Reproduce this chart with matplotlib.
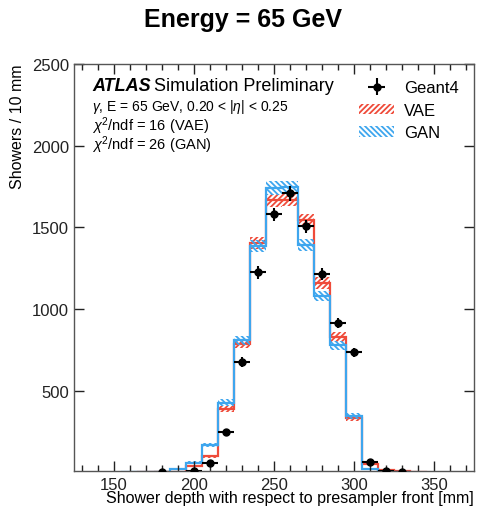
import numpy as np
import matplotlib
matplotlib.use("Agg")
import matplotlib.pyplot as plt
import matplotlib.patches as mpatches

plt.rcParams['font.family'] = ['Liberation Sans', 'DejaVu Sans']
plt.rcParams['mathtext.fontset'] = 'custom'
plt.rcParams['mathtext.rm'] = 'Liberation Sans'
plt.rcParams['mathtext.it'] = 'Liberation Sans:italic'
plt.rcParams['hatch.linewidth'] = 1.3

# bin centres (mm), 10 mm bins
centers = [160, 170, 180, 190, 200, 210, 220, 230, 240, 250, 260, 270, 280, 290, 300, 310, 320, 330, 340]

geant4 = [0, 0, 5, 0, 10, 62, 251, 677, 1225, 1580, 1708, 1506, 1214, 914, 735, 68, 10, 5, 0]
geant4_err = [0, 0, 3, 0, 4, 9, 18, 30, 38, 42, 44, 40, 36, 32, 28, 9, 4, 3, 0]

vae = [0, 1, 3, 6, 40, 100, 388, 788, 1405, 1665, 1670, 1545, 1160, 830, 333, 55, 18, 8, 3]
vae_err = [0, 1, 2, 3, 7, 10, 20, 28, 37, 41, 41, 39, 34, 29, 18, 7, 4, 3, 2]

gan = [2, 3, 5, 20, 62, 170, 428, 810, 1385, 1740, 1745, 1390, 1080, 780, 347, 20, 5, 2, 0]
gan_err = [1, 2, 2, 5, 8, 13, 21, 28, 37, 42, 42, 37, 33, 28, 19, 5, 2, 1, 0]

red = '#ef4b3a'
blue = '#3ea6ee'

centers = np.array(centers)
edges = np.append(centers - 5, centers[-1] + 5)

fig = plt.figure(figsize=(4.86, 5.10), dpi=100)
ax = fig.add_axes([74 / 486, 1 - 472 / 510, 400 / 486, 407 / 510])

for vals, errs, col, hatch in [(vae, vae_err, red, '//////'), (gan, gan_err, blue, '\\\\\\\\\\\\')]:
    vals = np.array(vals, dtype=float)
    errs = np.array(errs, dtype=float)
    ax.bar(centers, 2 * errs, bottom=vals - errs, width=10, fill=False,
           hatch=hatch, edgecolor=col, linewidth=0)
    ax.stairs(vals, edges, color=col, linewidth=1.6)

mask = np.array(geant4) > 0
ax.errorbar(centers[mask], np.array(geant4)[mask], xerr=5, yerr=np.array(geant4_err)[mask],
            fmt='o', color='black', markersize=5, elinewidth=1.5, capsize=0, zorder=5)

ax.set_xlim(125, 375)
ax.set_ylim(10, 2500)
ax.set_xticks([150, 200, 250, 300, 350])
ax.set_xticks(np.arange(130, 375, 10), minor=True)
ax.set_yticks([500, 1000, 1500, 2000, 2500])
ax.tick_params(which='both', direction='in', top=True, right=True, labelsize=12, colors='#222222')
ax.tick_params(which='major', length=7, width=1)
ax.tick_params(which='minor', length=4, width=1)
ax.tick_params(axis='x', pad=4)
for s in ax.spines.values():
    s.set_color('#555555')
    s.set_linewidth(1.0)

ax.set_xlabel('Shower depth with respect to presampler front [mm]', fontsize=11.5, loc='right', labelpad=-1)
ax.set_ylabel('Showers / 10 mm', fontsize=11.5, loc='top', labelpad=5)

fig.suptitle('Energy = 65 GeV', fontsize=18, fontweight='bold', x=0.5, y=0.985)

ax.text(0.045, 0.937, 'ATLAS', transform=ax.transAxes, fontsize=13, fontweight='bold',
        fontstyle='italic', va='baseline')
ax.text(0.2, 0.937, 'Simulation Preliminary', transform=ax.transAxes, fontsize=13, va='baseline')
ax.text(0.045, 0.888, r'$\gamma$, E = 65 GeV, 0.20 < |$\eta$| < 0.25', transform=ax.transAxes,
        fontsize=10, va='baseline')
ax.text(0.045, 0.839, r'$\chi^2$/ndf = 16 (VAE)', transform=ax.transAxes, fontsize=10.5, va='baseline')
ax.text(0.045, 0.790, r'$\chi^2$/ndf = 26 (GAN)', transform=ax.transAxes, fontsize=10.5, va='baseline')

h_g4 = ax.errorbar([], [], xerr=1, yerr=1, fmt='o', color='black', markersize=5, elinewidth=1.5)
h_vae = mpatches.Patch(facecolor='none', edgecolor=red, hatch='//////', linewidth=0)
h_gan = mpatches.Patch(facecolor='none', edgecolor=blue, hatch='\\\\\\\\\\\\', linewidth=0)
ax.legend([h_g4, h_vae, h_gan], ['Geant4', 'VAE', 'GAN'], loc='upper right',
          bbox_to_anchor=(1.0, 0.997), frameon=False, fontsize=12, handlelength=2.1,
          handleheight=0.6, labelspacing=0.45, handletextpad=0.6)

fig.savefig('out.png', dpi=100)
